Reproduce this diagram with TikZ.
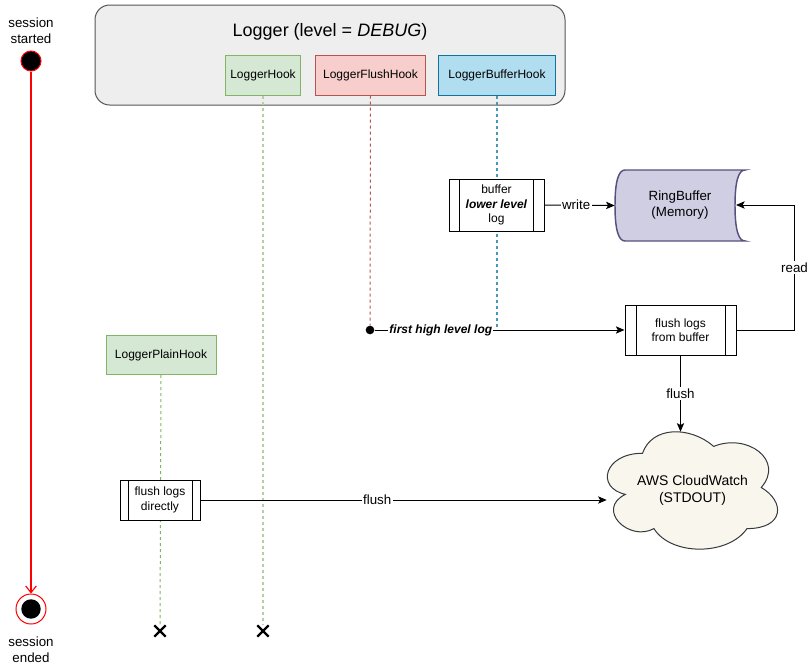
\documentclass[tikz,border=0pt]{standalone}
\usepackage{fontspec}
\setmainfont{Liberation Sans}
\usetikzlibrary{arrows.meta,shapes.misc,calc}
\definecolor{gfill}{HTML}{D5E8D4}
\definecolor{gline}{HTML}{82B366}
\definecolor{rfill}{HTML}{F8CECC}
\definecolor{rline}{HTML}{B85450}
\definecolor{bfill}{HTML}{B1DDF0}
\definecolor{bline}{HTML}{10739E}
\definecolor{contfill}{HTML}{EEEEEE}
\definecolor{contline}{HTML}{555555}
\definecolor{ringfill}{HTML}{D0CEE2}
\definecolor{ringline}{HTML}{56517E}
\definecolor{cloudfill}{HTML}{F9F7ED}
\definecolor{cloudline}{HTML}{36393D}
\definecolor{sred}{HTML}{FF0000}
\tikzset{
  hookbox/.style={draw, line width=0.75pt, inner sep=0pt, minimum height=30pt,
    font=\fontsize{9}{10.8}\selectfont},
  greenhook/.style={hookbox, fill=gfill, draw=gline},
  redhook/.style={hookbox, fill=rfill, draw=rline},
  bluehook/.style={hookbox, fill=bfill, draw=bline},
  procbox/.style={draw, fill=white, line width=0.75pt, inner sep=0pt, align=center,
    font=\fontsize{9}{10.8}\selectfont,
    path picture={
      \draw[line width=0.75pt] ([xshift=#1]path picture bounding box.north west) -- ([xshift=#1]path picture bounding box.south west);
      \draw[line width=0.75pt] ([xshift=-#1]path picture bounding box.north east) -- ([xshift=-#1]path picture bounding box.south east);
    }},
  stext/.style={align=center, inner sep=0pt, font=\fontsize{10}{12}\selectfont},
  startdot/.style={circle, fill=black, draw=sred, line width=0.75pt, minimum size=15pt, inner sep=0pt},
  enddot/.style={circle, fill=white, draw=sred, line width=0.75pt, minimum size=22.5pt, inner sep=0pt,
    path picture={\fill[black] (path picture bounding box.center) circle (7.3pt);}},
  startline/.style={color=sred, line width=0.85pt, -{Straight Barb[length=5pt,width=8pt]}},
  edge/.style={draw, line width=0.75pt, -{Stealth[length=6.5pt,width=5.5pt,inset=1.5pt]}},
  elabel/.style={fill=white, inner sep=1pt, font=\fontsize{10}{12}\selectfont},
  lifeg/.style={draw=gline, line width=0.75pt, dash pattern=on 2.25pt off 2.25pt},
  lifeglight/.style={draw=gline!60, line width=1pt, dash pattern=on 2.25pt off 2.25pt},
  lifer/.style={draw=rline, line width=0.75pt, dash pattern=on 2.25pt off 2.25pt},
  lifeb/.style={draw=bline!75, line width=0.8pt, dash pattern=on 2.25pt off 2.25pt},
  xmark/.style={cross out, draw=black, line width=1.6pt, minimum size=7pt, inner sep=0pt},
}
\begin{document}
\begin{tikzpicture}[x=0.75pt,y=-0.75pt]
\useasboundingbox (0,0) rectangle (808,668);

% session start / end
\node[stext] (sstart) at (31,31) {session\\started};
\node[startdot] (st) at (31,61) {};
\node[enddot] (en) at (31,609) {};
\node[stext] (send) at (31,650) {session\\ended};
\draw[startline] (st) -- (en);

% Logger container
\node[draw=contline, fill=contfill, line width=0.75pt, rounded corners=11pt,
      minimum width=352.5pt, minimum height=75pt, inner sep=0pt] (logger) at (330,55) {};
\node[font=\fontsize{13.5}{16}\selectfont, inner sep=0pt] (title) at (330,32) {Logger (level = \textit{DEBUG})};
\node[greenhook, minimum width=56.25pt] (lh) at (263,75) {LoggerHook};
\node[redhook, minimum width=82.5pt] (lfh) at (370.5,75) {LoggerFlushHook};
\node[bluehook, minimum width=87.75pt] (lbh) at (497,75) {LoggerBufferHook};

% plain hook
\node[greenhook, minimum width=82.5pt, minimum height=29.25pt] (lph) at (161,355) {LoggerPlainHook};

% end marks
\node[xmark] (x1) at (160,631) {};
\node[xmark] (x2) at (263,631) {};

% first-log dot
\node[circle, fill=black, inner sep=0pt, minimum size=6.5pt] (dot) at (370,330) {};
\coordinate (bend) at (497,330);

% lifelines
\draw[lifeglight] (lh.south) -- (x2);
\draw[lifeg] (lph.south) -- (x1);
\draw[lifer] (lfh.south) -- (dot);
\draw[lifeb] (lbh.south) -- (bend);

% process boxes
\node[procbox=8pt, minimum width=71.25pt, minimum height=39pt] (buf) at (496.5,205)
  {buffer\\\textbf{\textit{lower level}}\\log};
\node[procbox=8.25pt, minimum width=83.25pt, minimum height=37.5pt] (fb) at (680.5,330)
  {flush logs\\from buffer};
\node[procbox=6pt, minimum width=60pt, minimum height=30pt] (fd) at (160,500)
  {flush logs\\directly};

% RingBuffer
\draw[fill=ringfill, draw=ringline, line width=1.1pt]
  (625,170) -- (745,170)
  .. controls (738.33,170) and (735,181.83) .. (735,205.5)
  .. controls (735,229.17) and (738.33,241) .. (745,241)
  -- (625,241)
  .. controls (618.33,241) and (615,229.17) .. (615,205.5)
  .. controls (615,181.83) and (618.33,170) .. (625,170) -- cycle;
\node[minimum width=97.5pt, minimum height=53.25pt, inner sep=0pt, align=center,
      font=\fontsize{10}{12}\selectfont] (rb) at (680,205.5) {RingBuffer\\(Memory)};
\coordinate (rbr) at (736,205);

% Cloud
\draw[fill=cloudfill, draw=cloudline, line width=0.75pt]
  (642.5,453.25)
  .. controls (604.5,453.25) and (595,487.5) .. (625.4,494.35)
  .. controls (595,509.42) and (629.2,542.3) .. (653.9,528.6)
  .. controls (671,556) and (728,556) .. (747,528.6)
  .. controls (785,528.6) and (785,501.2) .. (761.25,487.5)
  .. controls (785,460.1) and (747,432.7) .. (713.75,446.4)
  .. controls (690,425.85) and (652,425.85) .. (642.5,453.25) -- cycle;
\node[minimum width=128.25pt, minimum height=87.75pt, inner sep=0pt, align=center,
      font=\fontsize{10.5}{12.6}\selectfont] (cw) at (692.5,490.5) {AWS CloudWatch\\(STDOUT)};

% connectors
\draw[edge] (buf.east) -- node[elabel, pos=0.45] {write} (rb.west);
\draw[edge] (fb.east) -- ++(58,0) |- node[elabel, pos=0.25] {read} (rbr);
\draw[edge] (dot) -- node[elabel, pos=0.265, font=\fontsize{9}{10.8}\selectfont\bfseries\itshape] {first high level log} (fb.west);
\draw[edge] (fb.south) -- node[elabel] {flush} (fb.south |- cw.north);
\draw[edge] (fd.east) -- node[elabel, pos=0.435] {flush} (fd.east -| cw.west);

\end{tikzpicture}
\end{document}
